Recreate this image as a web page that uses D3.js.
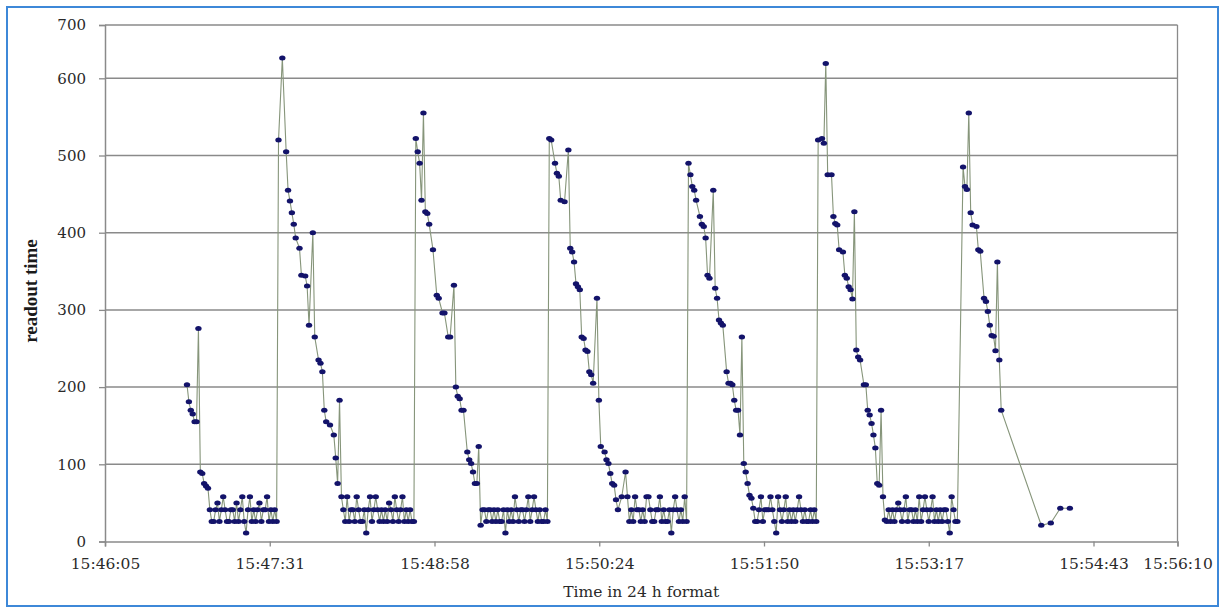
<!DOCTYPE html>
<html><head><meta charset="utf-8">
<script src="https://cdn.jsdelivr.net/npm/d3@7"></script>
<style>body{margin:0;background:#fff}svg{display:block}</style>
</head><body>
<svg id="chart" width="1222" height="608"></svg>
<script>
// Tick labels (time axis, 0.001 day = 86.4 s steps starting 15:46:05)
const xTickLabels = ["15:46:05","15:47:31","15:48:58","15:50:24","15:51:50","15:53:17","15:54:43","15:56:10"];
const xTickSeconds = [0, 86.4, 172.8, 259.2, 345.6, 432, 518.4, 604.8];
const yTickValues = [0, 100, 200, 300, 400, 500, 600, 700];

// Samples: [seconds after 15:46:05, readout time]
const burst1 = [[43,203],[44,181],[45,170],[46,165],[47,155],[48,155],[49,276],[50,90],[51,88],[52,75],[53,72],[54,69],
  [55,41],[56,26],[57,26],[58,41],[59,50],[60,26],[61,41],[62,58],[63,41],[64,26],[65,26],[66,41],[67,41],[68,26],[69,50],[70,26],[71,41],[72,58],[73,26],[74,11],[75,41],[76,58],[77,26],[78,41],[79,26],[80,41],[81,50],[82,26],[83,41],[84,41],[85,58],[86,26],[87,41],[88,26],[89,41],[90,26]];
const burst2 = [[91,520],[93,638],[95,505],[96,455],[97,441],[98,426],[99,411],[100,393],[102,380],[103,345],[105,344],[106,331],[107,280],[109,400],[110,265],[112,235],[113,231],[114,220],[115,170],[116,155],[118,151],[120,138],[121,108],[122,75],[123,183],[124,58],
  [125,41],[126,26],[127,58],[128,26],[129,41],[130,41],[131,26],[132,58],[133,41],[134,26],[135,26],[136,41],[137,11],[138,41],[139,58],[140,26],[141,41],[142,58],[143,41],[144,26],[145,41],[146,26],[147,41],[148,26],[149,50],[150,41],[151,26],[152,58],[153,41],[154,26],[155,41],[156,58],[157,26],[158,41],[159,26],[160,41],[161,26],[162,26]];
const burst3 = [[163,522],[164,505],[165,490],[166,442],[167,555],[168,427],[169,425],[170,411],[172,378],[174,319],[175,315],[177,296],[178,296],[180,265],[181,265],[183,332],[184,200],[185,188],[186,185],[187,170],[188,170],[190,116],[191,106],[192,101],[193,90],[194,75],[195,75],[196,123],
  [197,21],[198,41],[199,41],[200,26],[201,41],[202,41],[203,26],[204,41],[205,26],[206,41],[207,26],[208,26],[209,41],[210,11],[211,41],[212,26],[213,41],[214,26],[215,58],[216,41],[217,26],[218,41],[219,41],[220,26],[221,41],[222,58],[223,26],[224,41],[225,58],[226,41],[227,26],[228,41],[229,26],[230,26],[231,41],[232,26]];
const burst4 = [[233,522],[234,520],[236,490],[237,477],[238,473],[239,442],[241,440],[243,507],[244,380],[245,375],[246,362],[247,334],[248,330],[249,326],[250,265],[251,263],[252,248],[253,246],[254,220],[255,216],[256,205],[258,315],[259,183],[260,123],[262,116],[263,106],[264,101],[265,88],[266,75],[267,73],[268,54],[269,41],[271,58],[273,90],
  [274,58],[275,26],[276,41],[277,26],[278,58],[279,41],[280,41],[281,26],[282,41],[283,26],[284,58],[285,58],[286,41],[287,26],[288,26],[289,41],[290,41],[291,58],[292,26],[293,41],[294,26],[295,26],[296,41],[297,11],[298,41],[299,58],[300,41],[301,26],[302,41],[303,26],[304,58],[305,26]];
const burst5 = [[306,490],[307,475],[308,460],[309,455],[310,442],[312,421],[313,411],[314,408],[315,393],[316,345],[317,341],[319,455],[320,328],[321,315],[322,287],[323,283],[324,280],[326,220],[327,205],[328,205],[329,203],[330,183],[331,170],[332,170],[333,138],[334,265],[335,101],[336,90],[337,75],[338,60],[339,56],[340,43],
  [341,26],[342,26],[343,41],[344,58],[345,26],[346,41],[347,41],[348,41],[349,58],[350,41],[351,26],[352,11],[353,58],[354,41],[355,26],[356,41],[357,58],[358,26],[359,41],[360,26],[361,41],[362,26],[363,41],[364,58],[365,41],[366,26],[367,41],[368,26],[369,26],[370,41],[371,26],[372,41],[373,26]];
const burst6 = [[374,520],[376,522],[377,516],[378,628],[379,475],[381,475],[382,421],[383,412],[384,410],[385,378],[387,375],[388,345],[389,341],[390,330],[391,326],[392,314],[393,427],[394,248],[395,239],[396,235],[398,203],[399,203],[400,170],[401,164],[402,153],[403,138],[404,121],[405,75],[406,73],[407,170],[408,58],[409,28],
  [410,26],[411,41],[412,26],[413,41],[414,26],[415,41],[416,50],[417,41],[418,26],[419,41],[420,58],[421,26],[422,41],[423,41],[424,26],[425,41],[426,26],[427,58],[428,26],[429,41],[430,58],[431,41],[432,26],[433,41],[434,58],[435,26],[436,41],[437,26],[438,41],[439,26],[440,41],[441,41],[442,26],[443,11],[444,58],[445,41],[446,26],[447,26]];
const burst7 = [[450,485],[451,460],[452,456],[453,555],[454,426],[455,410],[457,408],[458,378],[459,376],[461,315],[462,311],[463,298],[464,280],[465,267],[466,266],[467,247],[468,362],[469,235],[470,170],[491,21],[496,24],[501,43],[506,43]];

const samples = [].concat(burst1, burst2, burst3, burst4, burst5, burst6, burst7);

const svg = d3.select("#chart");
const plotLeft = 105, plotRight = 1177.5, plotTop = 25, plotBottom = 541.5;

// scales (the reference plot has a compressed top band and last interval)
const x = d3.scaleLinear().domain([0, 518.4, 604.8]).range([plotLeft, 1093.5, plotRight]);
const y = d3.scaleLinear().domain([0, 600, 700]).range([plotBottom, 78.3, plotTop]);

// outer frame
svg.append("rect").attr("x", 7).attr("y", 7).attr("width", 1211).attr("height", 599)
  .attr("fill", "none").attr("stroke", "#3d88d8").attr("stroke-width", 2);

// gridlines
svg.append("g").selectAll("line").data(yTickValues.filter(d => d > 0)).join("line")
  .attr("x1", plotLeft).attr("x2", plotRight).attr("y1", d => y(d)).attr("y2", d => y(d))
  .attr("stroke", "#8a8a8a").attr("stroke-width", 1.5);
// right edge of plot
svg.append("line").attr("x1", plotRight).attr("x2", plotRight).attr("y1", plotTop).attr("y2", plotBottom)
  .attr("stroke", "#8a8a8a").attr("stroke-width", 1.3);

// y axis
const yAxis = svg.append("g").attr("transform", `translate(${plotLeft},0)`)
  .call(d3.axisLeft(y).tickValues(yTickValues).tickSize(6).tickPadding(13).tickFormat(d3.format("d")));
yAxis.select(".domain").attr("stroke", "#8a8a8a").attr("stroke-width", 1.5);
yAxis.selectAll(".tick line").attr("stroke", "#8a8a8a").attr("stroke-width", 1.3);
yAxis.selectAll("text").attr("font-family", "DejaVu Serif").attr("font-size", 15).attr("fill", "#2a2a2a");

// x axis
const xAxis = svg.append("g").attr("transform", `translate(0,${plotBottom})`)
  .call(d3.axisBottom(x).tickValues(xTickSeconds).tickSize(5).tickFormat((d, i) => xTickLabels[i]));
xAxis.select(".domain").attr("stroke", "#8a8a8a").attr("stroke-width", 1.5);
xAxis.selectAll(".tick line").attr("stroke", "#8a8a8a").attr("stroke-width", 1.3);
xAxis.selectAll("text").attr("y", 27.5).attr("dy", null)
  .attr("font-family", "DejaVu Serif").attr("font-size", 15.5).attr("fill", "#2a2a2a");

// titles
svg.append("text").attr("x", (plotLeft + plotRight) / 2).attr("y", 597).attr("text-anchor", "middle")
  .attr("font-family", "DejaVu Serif").attr("font-size", 15.5).attr("fill", "#2a2a2a")
  .text("Time in 24 h format");
svg.append("text").attr("transform", "translate(37,291) rotate(-90)").attr("text-anchor", "middle")
  .attr("font-family", "Liberation Serif").attr("font-weight", "bold").attr("font-size", 19).attr("fill", "#1a1a1a")
  .text("readout time");

// series line
svg.append("path").datum(samples)
  .attr("fill", "none").attr("stroke", "#86957a").attr("stroke-width", 1.1)
  .attr("d", d3.line().x(d => x(d[0])).y(d => y(d[1])));

// markers
svg.append("g").selectAll("ellipse").data(samples).join("ellipse")
  .attr("cx", d => x(d[0])).attr("cy", d => y(d[1]))
  .attr("rx", 3.2).attr("ry", 2.5).attr("fill", "#13136a");
</script>
</body></html>
